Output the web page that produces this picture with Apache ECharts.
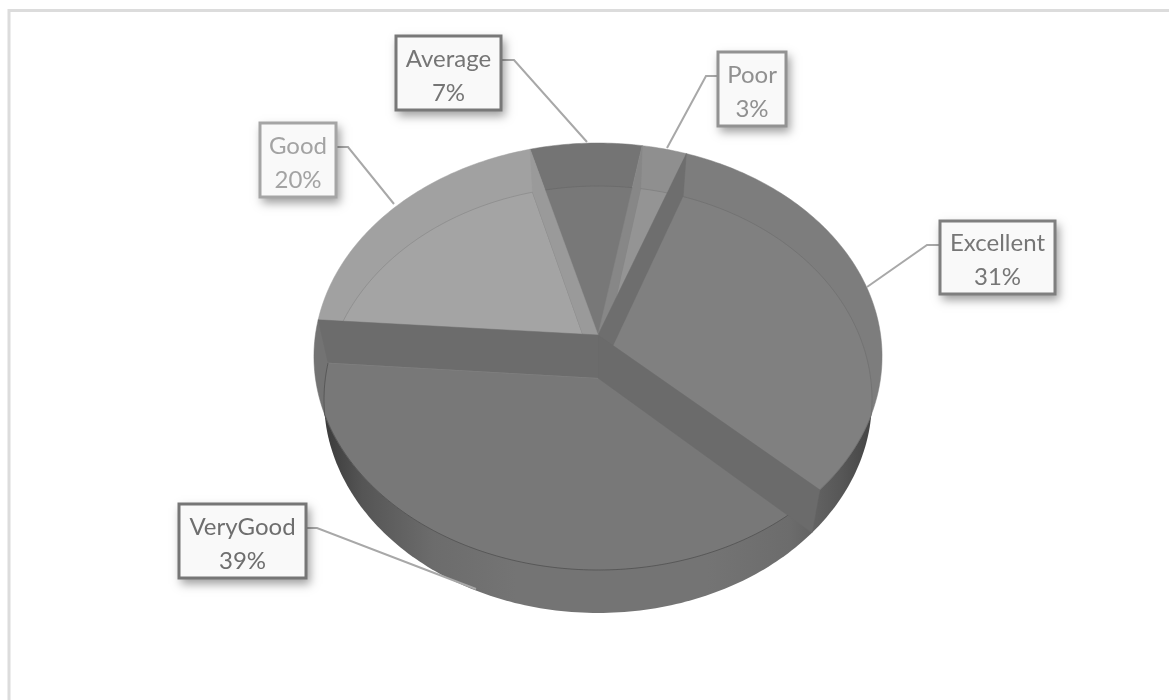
<!DOCTYPE html>
<html><head><meta charset="utf-8">
<style>html,body{margin:0;padding:0;background:#fff}#c{width:1169px;height:700px}</style>
<script src="https://cdn.jsdelivr.net/npm/echarts@6/dist/echarts.min.js"></script>
</head><body><div id="c"></div>
<script>
const categories = ['Excellent','VeryGood','Good','Average','Poor'];
const values = [31.4,39.2,19.6,7,2.8];

const floorColors = ['#808080','#787878','#a4a4a4','#787878','#949494'];
const rimColors   = ['#7d7d7d','#737373','#a1a1a1','#747474','#8f8f8f'];
const wallColors  = ['#6e6e6e','#6b6b6b','#6c6c6c','#9a9a9a','#878787'];
const boxColors   = ['#7f7f7f','#767676','#a5a5a5','#787878','#929292'];
const textColors  = ['#767676','#6e6e6e','#a3a3a3','#757575','#909090'];
const labelBoxes  = [[940,221,115,73],[179,504,127,74],[260,123,76,74],[396,36,105,74],[718,52,68,74]];
const leaders = [
 [[940,245],[927,245],[867,287]],
 [[306,528],[317,528],[476,589]],
 [[336,147],[348,147],[394,204]],
 [[501,60],[514,60],[587,142]],
 [[718,76],[706,76],[667,148]]
];

const START = 20, K = 0.1007, CX = 598, TY = 335, FY = 378, AY = 211.3, TB = 282.6, FB = 272.6;
const total = values.reduce((a,b)=>a+b,0);
function circle(theta, cy, b){
  const t = theta*Math.PI/180, u = Math.sin(t), v = Math.cos(t), d = 1+K*v;
  return [CX + b*u/d, cy - AY*v/d];
}
const T = th => circle(th, TY, TB);
const F = th => circle(th, FY, FB);
function tLower(x){ const r=(x-CX)/284; return 356.5 + 213.5*Math.sqrt(Math.max(0,1-r*r)); }
function clipF(th){ const p=F(th); return [p[0], Math.min(p[1], tLower(p[0]))]; }
function bounds(i){
  let s = START; for(let k=0;k<i;k++) s += values[k]/total*360;
  return [s, s + values[i]/total*360];
}
function arc(fn,a,b){ const o=[]; const n=Math.max(2,Math.ceil(b-a)); for(let j=0;j<=n;j++) o.push(fn(a+(b-a)*j/n)); return o; }

const data = values.map((v,i)=>[v,i]);
const gradient = new echarts.graphic.LinearGradient(0,0,1,0,[
 {offset:0,color:'#3a3a3a'},{offset:.07,color:'#555555'},{offset:.2,color:'#6c6c6c'},{offset:.35,color:'#747474'},
 {offset:.7,color:'#747474'},{offset:.85,color:'#6c6c6c'},{offset:.94,color:'#585858'},{offset:1,color:'#444444'}]);

function layer(z, fn, d){ return {type:'custom',coordinateSystem:'none',silent:true,z,data:d||data,renderItem:(p,api)=>fn(api.value(1),api)}; }

const option = {
  animation:false,
  backgroundColor:'#ffffff',
  graphic:[{type:'rect',silent:true,z:0,shape:{x:9,y:10.5,width:1300,height:800},style:{fill:'#fff',stroke:'#dcdcdc',lineWidth:3}}],
  series:[
    layer(1, ()=>({type:'polygon',shape:{points:arc(F,0,360)},style:{fill:gradient}}), [[total,0]]),
    layer(2, i=>{ const [a,b]=bounds(i);
      return {type:'polygon',shape:{points:[[CX,TY]].concat(arc(T,a,b))},style:{fill:rimColors[i],stroke:rimColors[i],lineWidth:.5}}; }),
    layer(3, i=>{ const [a,b]=bounds(i);
      return {type:'polygon',shape:{points:[[CX,FY]].concat(arc(clipF,a,b))},style:{fill:floorColors[i],stroke:floorColors[i],lineWidth:.5}}; }),
    layer(4, i=>{ const [a,b]=bounds(i);
      const front = i===1;
      return {type:'polyline',shape:{points:arc(clipF,a,b)},style:{fill:null,stroke:front?'rgba(50,50,50,0.45)':'rgba(60,60,60,0.18)',lineWidth:1}}; }),
    layer(5, i=>{ const th=bounds(i)[0], z2={4:1,0:2,3:3,1:4,2:5}[i];
      return {type:'polygon',z2,shape:{points:[[CX,TY],T(th),F(th),[CX,FY]]},style:{fill:wallColors[i],stroke:wallColors[i],lineWidth:.5}}; }),
    layer(6, i=>({type:'polyline',shape:{points:leaders[i]},style:{fill:null,stroke:'#a8a8a8',lineWidth:2}})),
    layer(7, i=>{ const [x,y,w,h]=labelBoxes[i];
      return {type:'group',children:[
        {type:'rect',z2:1,shape:{x:x-1,y:y-1,width:w+2,height:h+2},style:{fill:'#f9f9f9',shadowBlur:9,shadowOffsetX:3,shadowOffsetY:5,shadowColor:'rgba(0,0,0,0.38)'}},
        {type:'rect',z2:2,shape:{x,y,width:w,height:h},style:{fill:'#f9f9f9',stroke:boxColors[i],lineWidth:3}},
        {type:'text',z2:3,style:{x:x+w/2,y:y+h/2+3,text:categories[i]+'\n'+Math.round(values[i]/total*100)+'%',align:'center',verticalAlign:'middle',fill:textColors[i],fontFamily:'Lato',fontSize:24,lineHeight:34}}
      ]}; })
  ]
};
echarts.init(document.getElementById('c')).setOption(option);
</script></body></html>
